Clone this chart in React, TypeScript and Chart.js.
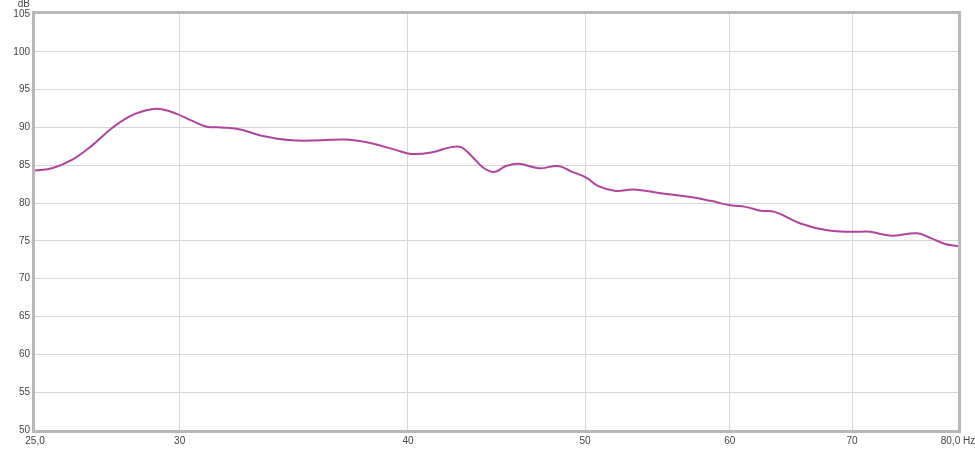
import React, { useEffect, useRef } from "react";
import { Chart, registerables } from "chart.js";

Chart.register(...registerables);

const freqs = [
  25.0, 25.54, 26.19, 26.86, 27.54, 28.24, 28.96, 29.33, 29.89, 30.46, 31.04, 31.63,
  32.43, 33.26, 34.54, 35.87, 37.01, 38.2, 39.42, 40.16, 41.19, 42.24, 42.77, 43.31,
  43.97, 44.59, 45.26, 46.01, 47.18, 48.32, 49.12, 50.05, 50.88, 51.98, 53.17, 55.0,
  57.12, 58.57, 60.06, 61.21, 62.37, 63.56, 65.59, 67.86, 70.11, 71.63, 73.45, 75.99,
  77.24, 78.71, 80.0,
];
const levels = [
  84.3, 84.6, 85.7, 87.6, 89.9, 91.6, 92.4, 92.4, 91.8, 90.9, 90.1, 90.0,
  89.7, 88.9, 88.3, 88.3, 88.4, 87.9, 87.0, 86.5, 86.7, 87.4, 87.4, 86.3,
  84.7, 84.1, 84.9, 85.2, 84.6, 84.9, 84.2, 83.4, 82.2, 81.6, 81.8, 81.3,
  80.8, 80.3, 79.7, 79.5, 79.0, 78.8, 77.3, 76.4, 76.2, 76.2, 75.7, 76.0,
  75.4, 74.6, 74.3,
];
const xTicks = [25, 30, 40, 50, 60, 70, 80];
const xTickLabels = ["25,0", "30", "40", "50", "60", "70", "80,0 Hz"];
const yMin = 50;
const yMax = 105;
const yStep = 5;
const yUnit = "dB";

const FONT = "'Liberation Sans', Arial, sans-serif";

const framePlugin = {
  id: "frame",
  beforeDatasetsDraw(chart: any) {
    const { ctx, chartArea: a } = chart;
    ctx.save();
    ctx.strokeStyle = "#b8b8b8";
    ctx.lineWidth = 3;
    ctx.strokeRect(a.left - 1.5, a.top - 1.5, a.right - a.left + 3, a.bottom - a.top + 3);
    ctx.restore();
  },
  afterDraw(chart: any) {
    const { ctx, chartArea: a } = chart;
    ctx.save();
    ctx.fillStyle = "#444";
    ctx.font = "10px " + FONT;
    ctx.textAlign = "right";
    ctx.textBaseline = "bottom";
    ctx.fillText(yUnit, a.left - 5, a.top - 5);
    ctx.restore();
  },
};

export default function App() {
  const ref = useRef<HTMLCanvasElement>(null);
  useEffect(() => {
    document.body.style.margin = "0";
    const chart = new Chart(ref.current!, {
      type: "line",
      data: {
        datasets: [
          {
            data: freqs.map((f, i) => ({ x: f, y: levels[i] })),
            borderColor: "#b0449c",
            borderWidth: 2,
            pointRadius: 0,
            tension: 0.4,
            fill: false,
          },
        ],
      },
      options: {
        responsive: false,
        animation: false,
        layout: { padding: { top: 14, right: 17, left: 0, bottom: 0 } },
        plugins: { legend: { display: false }, tooltip: { enabled: false } },
        scales: {
          x: {
            type: "logarithmic",
            min: 25,
            max: 80,
            afterBuildTicks(scale: any) {
              scale.ticks = xTicks.map((v) => ({ value: v }));
            },
            afterFit(scale: any) {
              scale.height = 20;
              scale.paddingLeft = 0;
              scale.paddingRight = 0;
            },
            border: { display: false },
            grid: {
              drawTicks: false,
              color: (c: any) =>
                c.tick && (c.tick.value === 25 || c.tick.value === 80) ? "rgba(0,0,0,0)" : "#d6d6d6",
            },
            ticks: {
              autoSkip: false,
              maxRotation: 0,
              padding: 5,
              color: "#444",
              font: { family: FONT, size: 10 },
              callback: (v: any) => {
                const i = xTicks.indexOf(Number(v));
                return i >= 0 ? xTickLabels[i] : "";
              },
            },
          },
          y: {
            min: yMin,
            max: yMax,
            afterFit(scale: any) {
              scale.width = 35;
            },
            border: { display: false },
            grid: {
              drawTicks: false,
              color: (c: any) =>
                c.tick && (c.tick.value === yMin || c.tick.value === yMax) ? "rgba(0,0,0,0)" : "#d6d6d6",
            },
            ticks: {
              stepSize: yStep,
              padding: 5,
              color: "#444",
              font: { family: FONT, size: 10 },
            },
          },
        },
      },
      plugins: [framePlugin],
    } as any);
    return () => chart.destroy();
  }, []);
  return (
    <div style={{ position: "absolute", left: 0, top: 0, width: 975, height: 450, background: "#fff" }}>
      <canvas ref={ref} width={975} height={450} />
    </div>
  );
}
